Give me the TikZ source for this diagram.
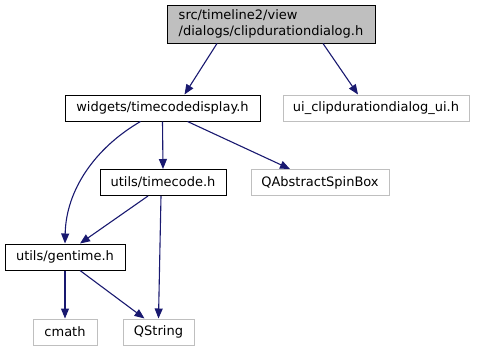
\documentclass[tikz,border=0pt]{standalone}
\usepackage{fontspec}
\setmainfont{DejaVu Sans}
\usetikzlibrary{arrows.meta}
\definecolor{edgeblue}{HTML}{191970}
\definecolor{extgray}{HTML}{BFBFBF}

\begin{document}
\begin{tikzpicture}[x=1pt,y=-1pt,
  file/.style={draw=black,line width=1pt,fill=white,inner sep=0pt,minimum height=26pt,font=\fontsize{13}{15.5}\selectfont},
  ext/.style={file,draw=extgray},
  inc/.style={draw=edgeblue,line width=1.1pt,-{Triangle[length=10pt,width=8pt]},edgeblue}]
\useasboundingbox (0,0) rectangle (479,351);
\node [file,fill=extgray,minimum width=208pt,minimum height=38pt,align=left] (dialog) at (271,24) {src/timeline2/view\\/dialogs/clipdurationdialog.h};
\node [file,minimum width=195pt] (display) at (162.5,108) {widgets/timecodedisplay.h};
\node [ext,minimum width=186pt] (ui) at (376,108) {ui\_clipdurationdialog\_ui.h};
\node [file,minimum width=126pt] (timecode) at (163,182.5) {utils/timecode.h};
\node [ext,minimum width=138pt] (spinbox) at (320,182.5) {QAbstractSpinBox};
\node [file,minimum width=120pt] (gentime) at (65,257) {utils/gentime.h};
\node [ext,minimum width=64pt] (cmath) at (65,332) {cmath};
\node [ext,minimum width=71pt] (qstring) at (158.5,332) {QString};

\draw [inc] ([xshift=-54pt]dialog.south) -- ([xshift=22pt]display.north);
\draw [inc] ([xshift=52pt]dialog.south) -- ([xshift=-18pt]ui.north);
\draw [inc] (display.south) -- (timecode.north);
\draw [inc] ([xshift=25pt]display.south) -- ([xshift=-30pt]spinbox.north);
\draw [inc] ([xshift=-22pt]display.south) .. controls (95,148) and (66,190) .. (gentime.north);
\draw [inc] ([xshift=-15pt]timecode.south) -- ([xshift=15pt]gentime.north);
\draw [inc] ([xshift=-2pt]timecode.south) -- (qstring.north);
\draw [inc] (gentime.south) -- (cmath.north);
\draw [inc] ([xshift=15pt]gentime.south) -- ([xshift=-14pt]qstring.north);
\end{tikzpicture}
\end{document}
